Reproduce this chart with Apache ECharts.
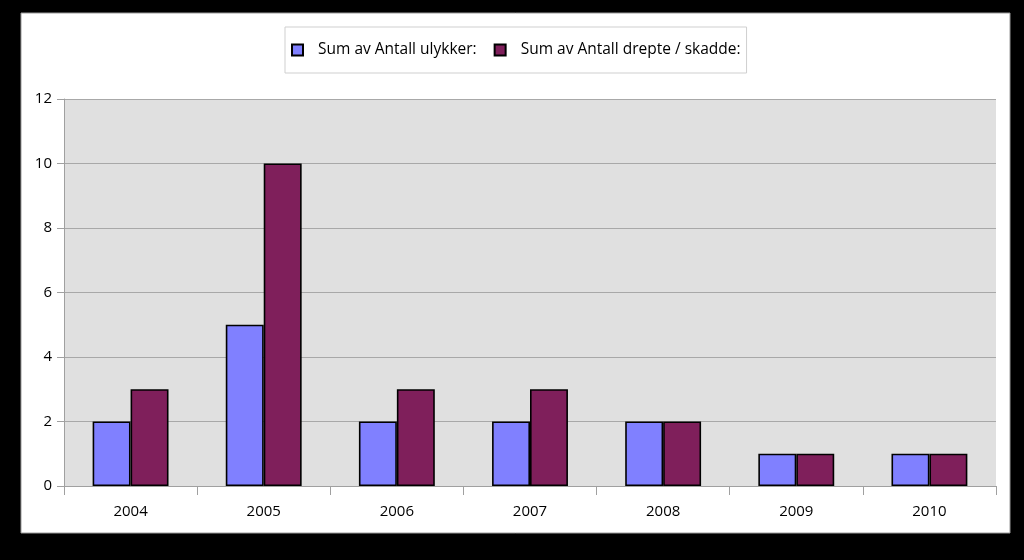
<!DOCTYPE html>
<html><head><meta charset="utf-8">
<script src="https://cdn.jsdelivr.net/npm/echarts@6/dist/echarts.min.js"></script>
<style>html,body{margin:0;padding:0;background:#000;}#c{width:1024px;height:560px;}</style>
</head><body><div id="c"></div>
<script>
const categories = ['2004','2005','2006','2007','2008','2009','2010'];
const seriesNames = ['Sum av Antall ulykker:', 'Sum av Antall drepte / skadde:'];
const ulykker = [2,5,2,2,2,1,1];
const drepteSkadde = [3,10,3,3,2,1,1];
const yTicks = {min:0, max:12, interval:2};

const chart = echarts.init(document.getElementById('c'), null, {renderer:'canvas'});
const font = '"Open Sans", "DejaVu Sans", sans-serif';
chart.setOption({
  backgroundColor:'#000',
  animation:false,
  graphic:[
    {type:'rect', shape:{x:21,y:13,width:989,height:520}, style:{fill:'#fff', stroke:'#9a9a9a', lineWidth:1}, z:-10}
  ],
  legend:{
    left:285, top:27,
    padding:[15,6,15,6],
    backgroundColor:'#fff', borderColor:'#cfcfcf', borderWidth:1,
    itemWidth:11, itemHeight:11, itemGap:17,
    textStyle:{fontFamily:font, fontSize:15.5, color:'#000', padding:[0,0,0,10]},
    data: seriesNames.map(n=>({name:n, icon:'rect'}))
  },
  grid:{left:64, right:28, top:99, bottom:74, show:true, backgroundColor:'#e0e0e0', borderWidth:0},
  xAxis:{
    type:'category', data:categories,
    axisLine:{lineStyle:{color:'#a0a0a0'}},
    axisTick:{show:true, length:9, lineStyle:{color:'#a0a0a0'}},
    axisLabel:{fontFamily:font, fontSize:15, color:'#000', margin:18},
    splitLine:{show:false}
  },
  yAxis:{
    type:'value', min:yTicks.min, max:yTicks.max, interval:yTicks.interval,
    axisLine:{show:true, lineStyle:{color:'#a0a0a0'}},
    axisTick:{show:true, length:7, lineStyle:{color:'#a0a0a0'}},
    axisLabel:{fontFamily:font, fontSize:15, color:'#000', margin:12},
    splitLine:{show:true, lineStyle:{color:'#a8a8a8', width:1}}
  },
  series:[
    {name:seriesNames[0], type:'bar', data:ulykker, barGap:'0%', barCategoryGap:'43%',
     itemStyle:{color:'#8080ff', borderColor:'#000', borderWidth:1.6}},
    {name:seriesNames[1], type:'bar', data:drepteSkadde,
     itemStyle:{color:'#7f1f5b', borderColor:'#000', borderWidth:1.6}}
  ]
});
</script></body></html>
